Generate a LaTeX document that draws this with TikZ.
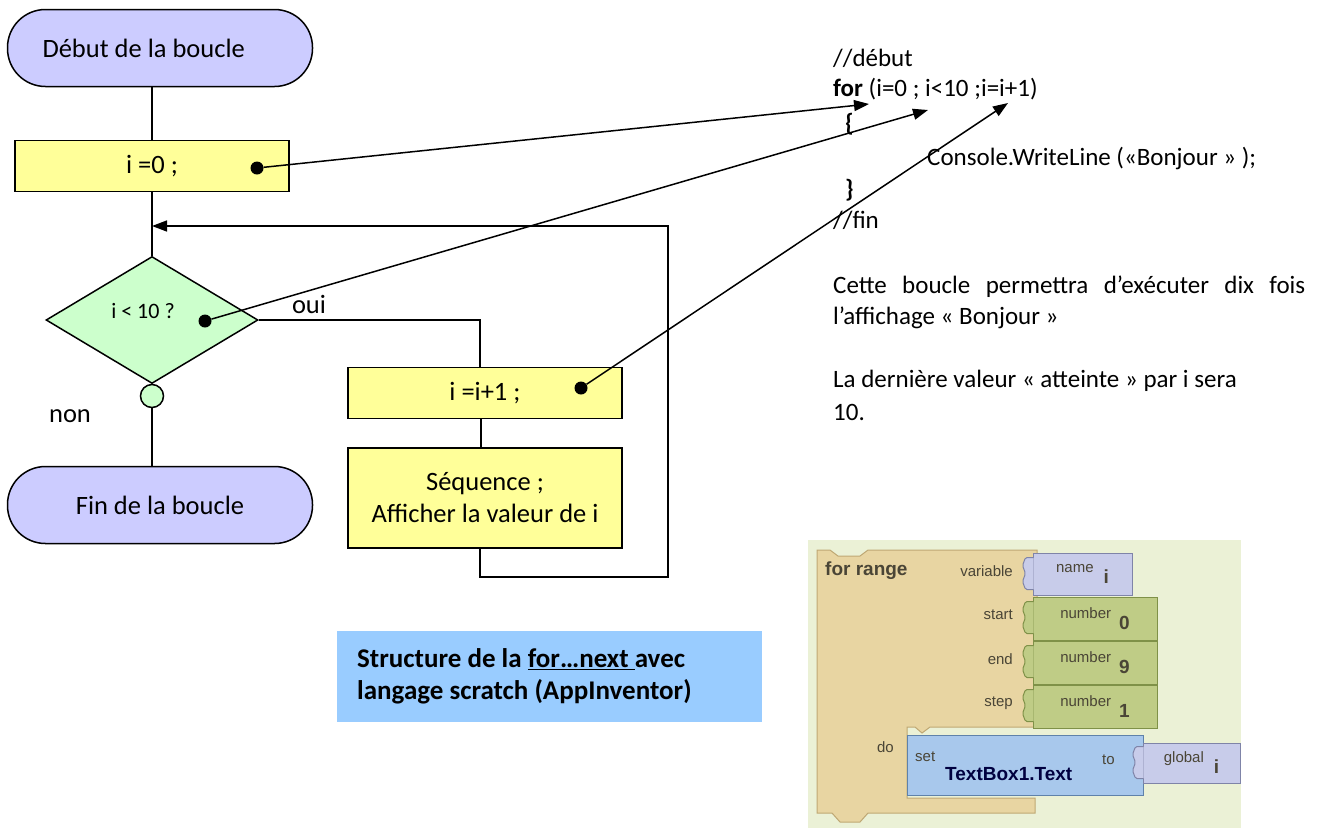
\documentclass[tikz,border=0pt]{standalone}
\usepackage{fontspec}
\setmainfont{Carlito}
\newfontfamily\blockfont{Liberation Sans}
\usetikzlibrary{arrows.meta,shapes.geometric}
\definecolor{pillcol}{HTML}{CCCCFF}
\definecolor{boxcol}{HTML}{FFFF99}
\definecolor{testcol}{HTML}{CCFFCC}
\definecolor{capcol}{HTML}{99CCFF}
\definecolor{bgcol}{HTML}{EBF1D6}
\definecolor{tancol}{HTML}{E8D5A2}
\definecolor{tanedge}{HTML}{BFA874}
\definecolor{namecol}{HTML}{C8CCEA}
\definecolor{nameedge}{HTML}{7F84A8}
\definecolor{numcol}{HTML}{BFCC86}
\definecolor{numedge}{HTML}{7F9148}
\definecolor{setcol}{HTML}{A8C8EC}
\definecolor{setedge}{HTML}{5F82AA}
\definecolor{blktext}{HTML}{4A4536}

\begin{document}
\begin{tikzpicture}[x=1pt,y=-1pt,
    every node/.style={font=\fontsize{26.5}{32}\selectfont},
    pill/.style={draw,line width=1.5pt,fill=pillcol,rounded corners=38pt,minimum width=305pt,minimum height=77pt},
    box/.style={draw,line width=1.5pt,fill=boxcol,minimum width=274pt,minimum height=51pt,align=center},
    test/.style={draw,diamond,line width=1.5pt,fill=testcol,minimum width=212pt,minimum height=127pt,inner sep=0pt},
    dot/.style={circle,fill=black,inner sep=0pt,minimum size=13pt},
    flow/.style={line width=1.5pt},
    link/.style={line width=1.5pt,-{Triangle[length=15pt,width=11pt]}},
    txt/.style={anchor=west,inner sep=0pt,font=\fontsize{25}{31}\selectfont},
    blk/.style={inner sep=0pt,text=blktext,font=\blockfont\fontsize{15}{18}\selectfont},
    blkbold/.style={blk,font=\blockfont\bfseries\fontsize{19}{22}\selectfont},
    valblock/.style={draw,line width=1pt,inner sep=0pt,text=blktext,font=\blockfont\fontsize{15}{18}\selectfont},
    tab/.style={line width=1pt,rounded corners=1.5pt}]
\useasboundingbox (0,0) rectangle (1321,828);

\node[pill,inner xsep=35pt] (debut) at (160,48) {\makebox[235pt][l]{Début de la boucle}};
\node[box] (init) at (152,166) {i =0 ;};
\node[dot] (d1) at (257,168) {};
\node[test] (test) at (152,320) {};
\node[inner sep=0pt,font=\fontsize{22}{26}\selectfont] (testlbl) at (143,311) {i < 10 ?};
\node[dot] (d2) at (205,321) {};
\node[circle,draw,line width=1.5pt,fill=testcol,minimum size=23pt,inner sep=0pt] (joint) at (152,396) {};
\node[pill] (fin) at (160,505) {Fin de la boucle};
\node[box] (incr) at (485,393) {i =i+1 ;};
\node[dot] (d3) at (581,388) {};
\node[box,minimum height=100pt] (seq) at (485,498) {Séquence ;\\Afficher la valeur de i};
\node[inner sep=0pt] (oui) at (309,304) {oui};
\node[inner sep=0pt] (non) at (70,416) {non};

\draw[flow] (init.north) -- (init.north |- debut.south);
\draw[flow] (init.south) -- (test.north);
\draw[flow] (test.east) -| ([xshift=-5pt]incr.north);
\draw[flow] (test.south) -- (joint.north);
\draw[flow] (joint.south) -- (joint.south |- fin.north);
\draw[flow] ([xshift=-4pt]incr.south) -- ([xshift=-4pt]seq.north);
\coordinate (loopR) at (668,226);
\coordinate (loopB) at (668,577);
\draw[link] ([xshift=-5pt]seq.south) |- (loopB) -- (loopR) -- (init.south |- loopR);

\node[txt] (c1) at (833,58) {//début};
\node[txt] (c2) at (833,89) {\textbf{for} (i=0 ; i<10 ;i=i+1)};
\node[txt] (c3) at (845,124) {\textbf{\{}};
\node[txt] (c4) at (927,158) {Console.WriteLine («Bonjour » );};
\node[txt] (c5) at (845,190) {\textbf{\}}};
\node[txt] (c6) at (833,220) {//fin};
\coordinate (t1) at (869,104);
\coordinate (t2) at (928,110);
\coordinate (t3) at (1008,103);
\draw[link] (d1) -- (t1);
\draw[link] (d2) -- (t2);
\draw[link] (d3) -- (t3);

\node[txt] (p1) at (833,287) {\makebox[472pt][s]{Cette boucle permettra d’exécuter dix fois}};
\node[txt] (p2) at (833,318) {l’affichage « Bonjour »};
\node[txt] (p3) at (833,381) {La dernière valeur « atteinte » par i sera};
\node[txt] (p4) at (833,412) {10.};

\fill[capcol] (337,631) rectangle (762,722);
\node[txt,align=left,font=\bfseries\fontsize{27}{32}\selectfont] (caption) at (357,676) {Structure de la \underline{for…next\ }avec\\langage scratch (AppInventor)};

\fill[bgcol] (808,540) rectangle (1241,828);
\filldraw[fill=tancol,draw=tanedge,line width=1pt] (817,550) -- (830,550) -- (838,556) -- (860,556) -- (868,550) -- (1037,550) -- (1037,727) -- (930,727) -- (922,733) -- (915,727) -- (907,727) -- (907,798) -- (1035,798) -- (1035,813) -- (868,813) -- (860,822) -- (840,822) -- (832,813) -- (817,813) -- cycle;
\node[valblock,fill=namecol,draw=nameedge,minimum width=99pt,minimum height=42pt] (vname) at (1082.5,574) {name\hspace{10pt}\raisebox{-11pt}{\bfseries\fontsize{19}{22}\selectfont i}};
\node[valblock,fill=numcol,draw=numedge,minimum width=124pt,minimum height=43pt] (vstart) at (1095,618.5) {number\hspace{8pt}\raisebox{-11pt}{\bfseries\fontsize{19}{22}\selectfont 0}};
\node[valblock,fill=numcol,draw=numedge,minimum width=124pt,minimum height=43pt] (vend) at (1095,662.5) {number\hspace{8pt}\raisebox{-11pt}{\bfseries\fontsize{19}{22}\selectfont 9}};
\node[valblock,fill=numcol,draw=numedge,minimum width=124pt,minimum height=43pt] (vstep) at (1095,706.5) {number\hspace{8pt}\raisebox{-11pt}{\bfseries\fontsize{19}{22}\selectfont 1}};
\node[valblock,fill=setcol,draw=setedge,minimum width=236pt,minimum height=60pt] (vset) at (1025,765) {};
\node[valblock,fill=namecol,draw=nameedge,minimum width=97pt,minimum height=40pt] (vglobal) at (1191.5,763) {global\hspace{10pt}\raisebox{-11pt}{\bfseries\fontsize{19}{22}\selectfont i}};
\filldraw[tab,fill=namecol,draw=nameedge] (vname.north west) ++(1,5) -- ++(-8,0) -- ++(-3,8) -- ++(3,8) -- ++(-3,8) -- ++(3,8) -- ++(8,0);
\filldraw[tab,fill=numcol,draw=numedge] (vstart.north west) ++(1,5) -- ++(-8,0) -- ++(-3,8) -- ++(3,8) -- ++(-3,8) -- ++(3,8) -- ++(8,0);
\filldraw[tab,fill=numcol,draw=numedge] (vend.north west) ++(1,5) -- ++(-8,0) -- ++(-3,8) -- ++(3,8) -- ++(-3,8) -- ++(3,8) -- ++(8,0);
\filldraw[tab,fill=numcol,draw=numedge] (vstep.north west) ++(1,5) -- ++(-8,0) -- ++(-3,8) -- ++(3,8) -- ++(-3,8) -- ++(3,8) -- ++(8,0);
\filldraw[tab,fill=namecol,draw=nameedge] (vglobal.north west) ++(1,4) -- ++(-8,0) -- ++(-3,8) -- ++(3,8) -- ++(-3,8) -- ++(3,8) -- ++(8,0);

\node[blkbold,anchor=west] (forrange) at (825,571) {for range};
\node[blk,anchor=east] (lvar) at (1013,571) {variable};
\node[blk,anchor=east] (lstart) at (1013,615) {start};
\node[blk,anchor=east] (lend) at (1013,659) {end};
\node[blk,anchor=east] (lstep) at (1013,703) {step};
\node[blk,anchor=east] (ldo) at (894,747) {do};
\node[blk,anchor=west] (lset) at (915,757) {set};
\node[blkbold,anchor=west,text=black!75!blue] (ltext) at (945,774) {TextBox1.Text};
\node[blk,anchor=west] (lto) at (1102,760) {to};
\end{tikzpicture}
\end{document}
